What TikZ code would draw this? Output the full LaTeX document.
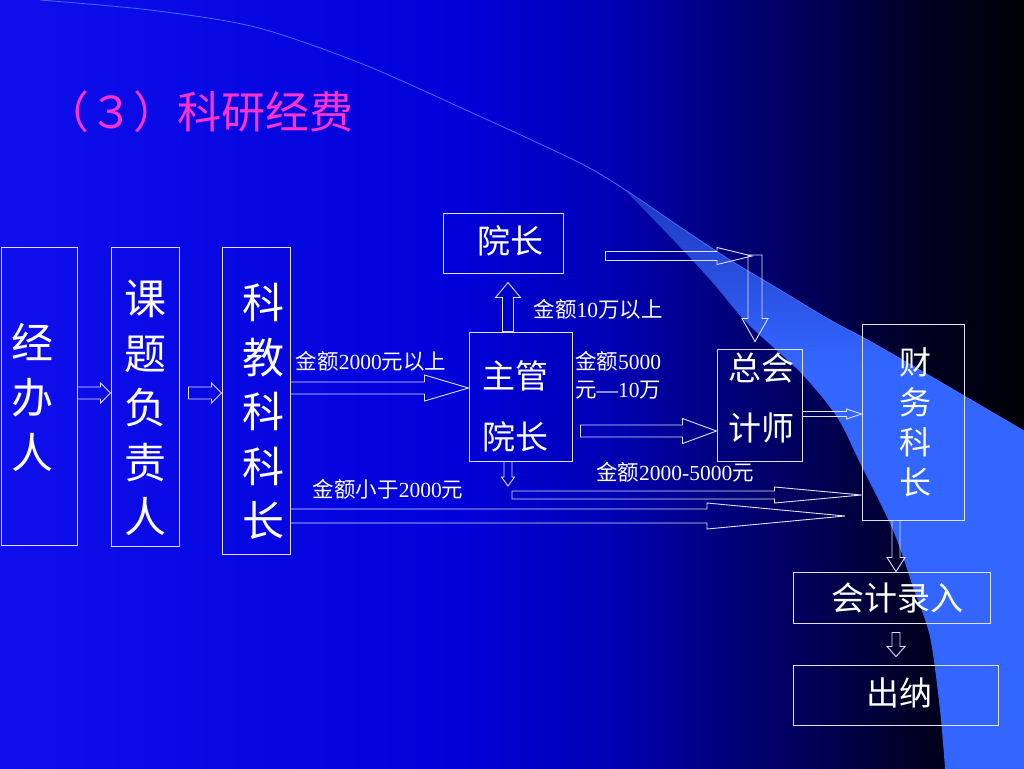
\documentclass[tikz,border=0pt]{standalone}
\usepackage{fontspec}
\setmainfont{Liberation Serif}
\newfontfamily\cjk{Noto Sans CJK SC}
\usetikzlibrary{calc}
\definecolor{lc}{RGB}{225,225,255}
\definecolor{ttl}{RGB}{255,51,204}
\definecolor{swl}{RGB}{70,110,255}
\pgfdeclarehorizontalshading{bgsh}{100bp}{rgb(0bp)=(0.06,0.06,0.93); rgb(25bp)=(0.06,0.06,0.93); rgb(47.5bp)=(0,0,0.85); rgb(55bp)=(0,0,0.7); rgb(60bp)=(0,0,0.5); rgb(65bp)=(0,0,0.33); rgb(70bp)=(0,0,0.13); rgb(75bp)=(0,0,0.02); rgb(100bp)=(0,0,0.02)}
\pgfdeclareverticalshading{swsh}{100bp}{rgb(0bp)=(0.2,0.4,1); rgb(25bp)=(0.2,0.4,1); rgb(60bp)=(0.2,0.4,1); rgb(75bp)=(0.12,0.22,0.75); rgb(100bp)=(0.12,0.22,0.75)}
\newcommand\blkarrow[5]{%
  \path (#1) coordinate (ba) (#2) coordinate (bb);
  \path ($(bb)!#5!(ba)$) coordinate (hb);
  \draw[barr] ($(ba)!#3!90:(bb)$) -- ($(hb)!#3!90:(bb)$) -- ($(hb)!#4!90:(bb)$) -- (bb)
     -- ($(hb)!#4!-90:(bb)$) -- ($(hb)!#3!-90:(bb)$) -- ($(ba)!#3!-90:(bb)$) -- cycle;}
\begin{document}
\begin{tikzpicture}[x=1pt,y=-1pt,
  box/.style={draw=lc, line width=1pt, inner sep=0pt},
  big/.style={text=white, font=\cjk\fontsize{42}{54.5}\selectfont, align=center, inner sep=0pt},
  midt/.style={text=white, font=\cjk\fontsize{33}{61}\selectfont, align=center, inner sep=0pt},
  lab/.style={text=white, font=\fontsize{21.5}{28}\selectfont, inner sep=0pt},
  barr/.style={draw=lc, line width=0.9pt, line join=miter}]
\useasboundingbox (0,0) rectangle (1024,768);
\shade[shading=bgsh] (0,0) rectangle (1024,768);
\begin{scope}
\clip (0,0) rectangle (1024,768);
\shade[shading=swsh] plot[smooth] coordinates {(625,190) (680,227) (730,260) (780,290) (830,320) (880,347) (1024,431)}
  -- (1030,431) -- (1030,770) -- (945,770)
  -- plot[smooth] coordinates {(945,768) (940,710) (930,637) (913,587) (893,530) (860,463) (837,417) (800,372) (747,323) (713,283) (680,247) (625,190)} -- cycle;
\draw[swl, line width=0.8pt] plot[smooth] coordinates {(40,0) (150,10) (255,27) (360,63) (466,110) (580,163) (630,193) (680,227) (730,260) (780,290) (830,320) (880,347) (1024,431)};
\end{scope}

\node[anchor=west, text=ttl, font=\cjk\fontsize{44}{44}\selectfont, inner sep=0pt] (title) at (45,112) {（３）科研经费};

\node[box, minimum width=76pt, minimum height=298pt] (jb) at (39,396) {};
\node[big, font=\cjk\fontsize{42}{55}\selectfont] (jbt) at (33,397) {经\\办\\人};
\node[box, minimum width=68pt, minimum height=299pt] (kt) at (145,396.5) {};
\node[big] (ktt) at (145,408) {课\\题\\负\\责\\人};
\node[box, minimum width=68pt, minimum height=307pt] (kj) at (256,400.5) {};
\node[big] (kjt) at (263,411.5) {科\\教\\科\\科\\长};
\node[box, minimum width=120pt, minimum height=60pt] (yz) at (503,243) {};
\node[midt] (yzt) at (510,241) {院长};
\node[box, minimum width=103pt, minimum height=129pt] (zg) at (520.5,396.5) {};
\node[midt] (zgt) at (515,406.5) {主管\\院长};
\node[box, minimum width=85pt, minimum height=112pt] (zk) at (759.5,405) {};
\node[midt, font=\cjk\fontsize{33}{60}\selectfont] (zkt) at (761,398) {总会\\计师};
\node[box, minimum width=102pt, minimum height=196pt] (cw) at (913,422) {};
\node[midt, font=\cjk\fontsize{32}{40}\selectfont] (cwt) at (915,422) {财\\务\\科\\长};
\node[box, minimum width=197pt, minimum height=51pt] (kl) at (891.5,597.5) {};
\node[midt] (klt) at (897,598) {会计录入};
\node[box, minimum width=205pt, minimum height=60pt] (cn) at (895.5,695) {};
\node[midt] (cnt) at (899,693) {出纳};

\node[lab] (l1) at (371,361) {{\cjk 金额}2000{\cjk 元以上}};
\node[lab] (l2) at (598,309) {{\cjk 金额}10{\cjk 万以上}};
\node[lab, anchor=west, align=left] (l3) at (575,375) {{\cjk 金额}5000\\{\cjk 元}—10{\cjk 万}};
\node[lab] (l4) at (675,472) {{\cjk 金额}2000-5000{\cjk 元}};
\node[lab] (l5) at (388,489) {{\cjk 金额小于}2000{\cjk 元}};

\coordinate (hz) at (752,256);
\coordinate (vt) at (755,255);
\coordinate (zd) at (508,486);
\coordinate (ds) at (512,495);
\coordinate (le) at (845,516);

\blkarrow{[yshift=3pt]jb.east}{[yshift=3.5pt]kt.west}{6pt}{10pt}{10pt}
\blkarrow{[xshift=9pt,yshift=3.5pt]kt.east}{[yshift=7.5pt]kj.west}{6pt}{10pt}{10pt}
\blkarrow{[yshift=12.5pt]kj.east}{[yshift=8.5pt]zg.west}{6pt}{13pt}{44pt}
\blkarrow{[xshift=-12.5pt]zg.north}{[xshift=5pt,yshift=-9pt]yz.south}{5.5pt}{12.5pt}{15pt}
\blkarrow{[xshift=42pt,yshift=-13pt]yz.east}{hz}{4.5pt}{8.5pt}{35pt}
\blkarrow{vt}{[xshift=-4.5pt,yshift=7pt]zk.north}{7pt}{13pt}{23pt}
\blkarrow{[xshift=8pt,yshift=-34.5pt]zg.east}{[yshift=-26pt]zk.west}{6pt}{12.5pt}{34pt}
\blkarrow{[yshift=-9pt]zk.east}{[yshift=8pt]cw.west}{2.5pt}{5pt}{15pt}
\blkarrow{[xshift=-12.5pt]zg.south}{zd}{4pt}{6.5pt}{9pt}
\blkarrow{ds}{[yshift=-73pt]cw.west}{4pt}{8pt}{87pt}
\blkarrow{[yshift=-115.5pt]kj.east}{le}{7pt}{13pt}{138pt}
\blkarrow{[xshift=-17pt]cw.south}{[xshift=4.5pt]kl.north}{4pt}{9pt}{14pt}
\blkarrow{[xshift=4.5pt,yshift=-9pt]kl.south}{[xshift=0.5pt,yshift=8pt]cn.north}{4pt}{9pt}{10pt}
\end{tikzpicture}
\end{document}
